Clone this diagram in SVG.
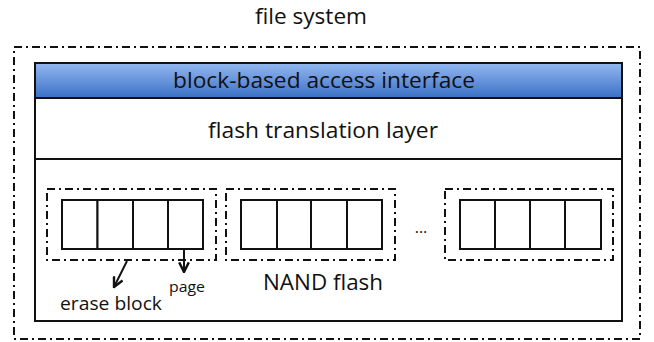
<svg xmlns="http://www.w3.org/2000/svg" width="654" height="342" viewBox="0 0 654 342">
<style>
text{font-family:"Open Sans","Noto Sans","Liberation Sans",sans-serif;fill:#111}
.dd{fill:none;stroke:#111;stroke-width:2;stroke-dasharray:8,4,2,4}
.box{fill:#fff;stroke:#111;stroke-width:2}
.pg{fill:#fff;stroke:#111;stroke-width:2}
.ln{fill:none;stroke:#111;stroke-width:2}
</style>
<defs>
<linearGradient id="blue" x1="0" y1="0" x2="0" y2="1">
<stop offset="0" stop-color="#93b8f0"/>
<stop offset="1" stop-color="#3b70c6"/>
</linearGradient>
<marker id="ah" viewBox="0 0 10 10" refX="9" refY="5" markerWidth="6" markerHeight="6" orient="auto">
<path d="M1,1 L9,5 L1,9" fill="none" stroke="#111" stroke-width="2"/>
</marker>
</defs>
<rect width="654" height="342" fill="#fff"/>
<g id="file-system">
<rect class="dd" x="14" y="47" width="626" height="292"/>
<text x="311" y="24" font-size="21" text-anchor="middle" textLength="112" lengthAdjust="spacingAndGlyphs">file system</text>
</g>
<g id="container">
<rect class="box" x="35" y="63" width="587" height="258"/>
</g>
<g id="block-interface">
<rect x="35" y="63" width="587" height="35" fill="url(#blue)" stroke="#111" stroke-width="2"/>
<text x="324" y="88" font-size="22" text-anchor="middle" textLength="302" lengthAdjust="spacingAndGlyphs">block-based access interface</text>
</g>
<g id="ftl">
<rect class="box" x="35" y="98" width="587" height="61"/>
<text x="323" y="138" font-size="22" text-anchor="middle" textLength="230" lengthAdjust="spacingAndGlyphs">flash translation layer</text>
</g>
<g id="erase-block-1">
<rect class="dd" x="47" y="189" width="169" height="71"/>
<rect class="pg" x="62" y="200" width="35.5" height="49"/>
<rect class="pg" x="97.5" y="200" width="35.5" height="49"/>
<rect class="pg" x="133" y="200" width="35" height="49"/>
<rect class="pg" x="168" y="200" width="35" height="49"/>
</g>
<g id="erase-block-2">
<rect class="dd" x="226" y="189" width="169" height="71"/>
<rect class="pg" x="241" y="200" width="36" height="49"/>
<rect class="pg" x="277" y="200" width="34" height="49"/>
<rect class="pg" x="311" y="200" width="36" height="49"/>
<rect class="pg" x="347" y="200" width="35" height="49"/>
</g>
<g id="ellipsis">
<text x="421" y="233" font-size="16" text-anchor="middle">...</text>
</g>
<g id="erase-block-3">
<rect class="dd" x="445" y="189" width="168" height="71"/>
<rect class="pg" x="460" y="200" width="35" height="49"/>
<rect class="pg" x="495" y="200" width="35" height="49"/>
<rect class="pg" x="530" y="200" width="35" height="49"/>
<rect class="pg" x="565" y="200" width="36" height="49"/>
</g>
<g id="labels">
<text x="323" y="290" font-size="21" text-anchor="middle" textLength="120" lengthAdjust="spacingAndGlyphs">NAND flash</text>
<text x="111" y="310" font-size="19" text-anchor="middle" textLength="102" lengthAdjust="spacingAndGlyphs">erase block</text>
<text x="187" y="292" font-size="15" text-anchor="middle" textLength="36" lengthAdjust="spacingAndGlyphs">page</text>
</g>
<g id="connectors">
<line class="ln" x1="127" y1="261" x2="114" y2="287" marker-end="url(#ah)"/>
<line class="ln" x1="184" y1="249" x2="184" y2="272" marker-end="url(#ah)"/>
</g>
</svg>
